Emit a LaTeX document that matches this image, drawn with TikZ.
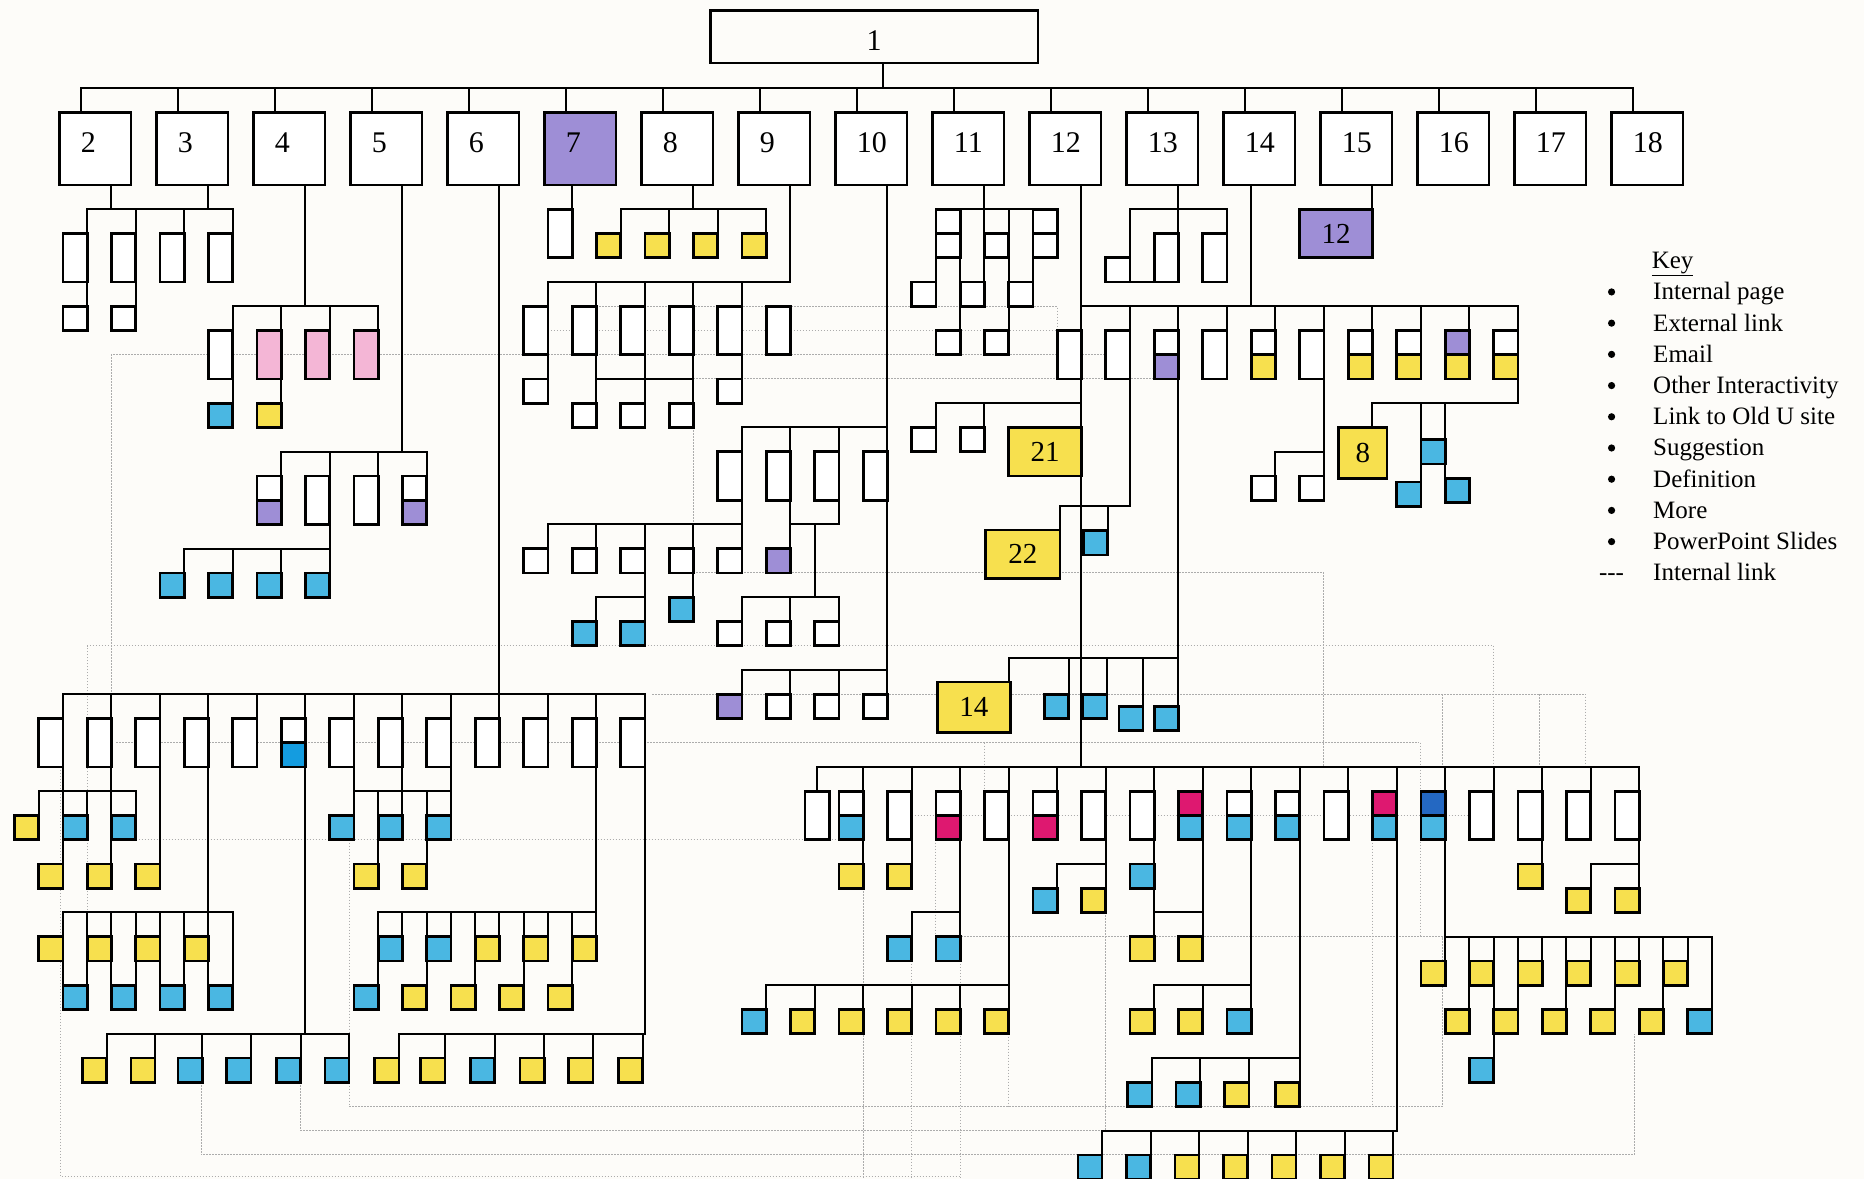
\documentclass[tikz,border=0pt]{standalone}
\usepackage{fontspec}
\setmainfont{Liberation Serif}
\usepackage{xcolor}
\usepackage{tikz}
\usetikzlibrary{calc, positioning}

\definecolor{pgyellow}{RGB}{247,224,78}
\definecolor{pgblue}{RGB}{74,183,226}
\definecolor{pgbblue}{RGB}{20,156,224}
\definecolor{pgdblue}{RGB}{36,104,194}
\definecolor{pgpurple}{RGB}{158,142,214}
\definecolor{pgpink}{RGB}{244,182,214}
\definecolor{pgmagenta}{RGB}{222,24,112}
\definecolor{paper}{RGB}{253,252,249}

\newcounter{pgn}
% one page box: right edge #2, top #3, height #4 (grid units)
\newcommand{\pg}[4][white]{\stepcounter{pgn}%
  \node[pg, fill=#1, minimum height=#4*24.25pt] (p\arabic{pgn}) at (#2,#3) {};}

\begin{document}
\begin{tikzpicture}[x=24.25pt, y=-24.25pt,
    ln/.style={line width=2pt, line cap=rect},
    lnk/.style={gray!65, line width=1pt, dash pattern=on 1.5pt off 1.5pt},
    pg/.style={draw, line width=2.6pt, inner sep=0pt, outer sep=0pt, minimum width=24.25pt, anchor=north east},
    topbox/.style={draw, line width=2.6pt, inner sep=0pt, outer sep=0pt},
    toplab/.style={inner sep=0pt, font=\fontsize{30}{30}\selectfont},
    bigbox/.style={draw, line width=2.6pt, inner sep=0pt, outer sep=0pt, font=\fontsize{29}{29}\selectfont},
    keytxt/.style={anchor=base west, inner sep=0pt, font=\fontsize{25}{30}\selectfont}]

    % 1. Nền
    \fill[paper] (-0.598,-7.629) rectangle (76.27,40.99);
    \useasboundingbox (-0.598,-7.629) rectangle (76.27,40.99);

    % 2. Internal links (dotted)
    \draw[lnk] (4,24) -- (4,7) -- (45,7);
    \draw[lnk] (22,6) -- (43,6);
    \draw[lnk] (24,5) -- (43,5) -- (43,6);
    \draw[lnk] (28,8) -- (47,8);
    \draw[lnk] (28,10) -- (28,14);
    \draw[lnk] (28,16) -- (54,16) -- (54,24);
    \draw[lnk] (3,33) -- (3,19) -- (61,19) -- (61,24);
    \draw[lnk] (4.2,23) -- (57.9,23) (40,23) -- (40,25);
    \draw[lnk] (26.3,21) -- (64.8,21) -- (64.8,24) (58.9,21) -- (58.9,24) (62.9,21) -- (62.9,24);
    \draw[lnk] (5,27) -- (34,27);
    \draw[lnk] (1.9,24) -- (1.9,40.9) -- (39,40.9);
    \draw[lnk] (7.7,37) -- (7.7,40) -- (66.8,40) -- (66.8,35);
    \draw[lnk] (11.8,37) -- (11.8,39) -- (44.85,39);
    \draw[lnk] (13.8,27) -- (13.8,38) -- (58.9,38) -- (58.9,31) -- (39,31);
    \draw[lnk] (35,29) -- (35,41) (37,32) -- (37,41) (39,32) -- (39,41)
        (41,35) -- (41,38) (45,30) -- (45,39) (38,27) -- (38,31);
    \draw[lnk] (37,26) -- (60,26) (56,27) -- (56,38) (58,23) -- (58,31);

    % 3. Trang chủ và cấp 1
    \node[topbox, minimum width=327.4pt, minimum height=52.6pt] (r1) at (35.45,-6.12) {};
    \node[toplab] (l1) at (35.45,-5.95) {1};
    \coordinate (hub) at (35.8,-4);
    \draw[ln] (hub |- r1.south) -- (hub);
    \draw[ln] (2.75,-4) -- (66.75,-4);
    \foreach \k in {2,...,18} {
        \ifnum\k=7 \def\boxfill{pgpurple}\else\def\boxfill{white}\fi
        \node[topbox, fill=\boxfill, minimum width=71.5pt, minimum height=72.75pt] (t\k) at ({3.325+4*(\k-2)},-1.5) {};
        \node[toplab, anchor=west] (l\k) at ({2.73+4*(\k-2)},-1.75) {\k};
        \draw[ln] ($(t\k.north)+(-0.575,0)$) -- ++(0,-1);
    }

    % 4. Under 2 and 3
    \draw[ln] (4,0) -- (4,1) (8,0) -- (8,1) (3,1) -- (9,1)
        (3,1) -- (3,5) (5,1) -- (5,5) (7,1) -- (7,2) (9,1) -- (9,2);
    \foreach \x in {3,5,7,9} {\pg{\x}{2}{2}}
    \pg{3}{5}{1} \pg{5}{5}{1}

    % 5. Under 4
    \draw[ln] (12,0) -- (12,5) (9,5) -- (15,5) (9,5) -- (9,9) (11,5) -- (11,9) (13,5) -- (13,6) (15,5) -- (15,6);
    \pg{9}{6}{2}
    \foreach \x in {11,13,15} {\pg[pgpink]{\x}{6}{2}}
    \pg[pgblue]{9}{9}{1} \pg[pgyellow]{11}{9}{1}

    % 6. Under 5
    \draw[ln] (16,0) -- (16,11) (11,11) -- (17,11) (11,11) -- (11,12) (13,11) -- (13,16)
        (15,11) -- (15,12) (17,11) -- (17,12)
        (7,15) -- (13,15) (7,15) -- (7,16) (9,15) -- (9,16) (11,15) -- (11,16);
    \pg{11}{12}{1} \pg[pgpurple]{11}{13}{1} \pg{13}{12}{2} \pg{15}{12}{2}
    \pg{17}{12}{1} \pg[pgpurple]{17}{13}{1}
    \foreach \x in {7,9,11,13} {\pg[pgblue]{\x}{16}{1}}

    % 7. Under 6
    \draw[ln] (20,0) -- (20,22) (2,21) -- (26,21);
    \foreach \x in {2,4,...,26} {\draw[ln] (\x,21) -- (\x,22);}
    \draw[ln] (2,22) -- (2,28) (4,22) -- (4,28) (6,22) -- (6,28) (8,22) -- (8,30) (12,22) -- (12,35)
        (14,22) -- (14,26) (16,22) -- (16,26) (18,22) -- (18,26) (24,22) -- (24,30) (26,22) -- (26,35);
    \foreach \x in {2,4,6,8,10,14,16,18,20,22,24,26} {\pg{\x}{22}{2}}
    \pg{12}{22}{1} \pg[pgbblue]{12}{23}{1}
    % left branch
    \draw[ln] (1,25) -- (5,25) (1,25) -- (1,26) (3,25) -- (3,26) (5,25) -- (5,26);
    \pg[pgyellow]{1}{26}{1} \pg[pgblue]{3}{26}{1} \pg[pgblue]{5}{26}{1}
    \foreach \x in {2,4,6} {\pg[pgyellow]{\x}{28}{1}}
    \draw[ln] (2,30) -- (9,30);
    \foreach \x in {2,...,9} {\draw[ln] (\x,30) -- (\x,33);}
    \foreach \x in {2,4,6,8} {\pg[pgyellow]{\x}{31}{1}}
    \foreach \x in {3,5,7,9} {\pg[pgblue]{\x}{33}{1}}
    \draw[ln] (3.8,35) -- (13.8,35);
    \foreach \x/\col in {3.8/pgyellow,5.8/pgyellow,7.75/pgblue,9.75/pgblue,11.8/pgblue,13.8/pgblue}
        {\draw[ln] (\x,35) -- (\x,36); \pg[\col]{\x}{36}{1}}
    % right branch
    \draw[ln] (14,25) -- (18,25) (15,25) -- (15,28) (17,25) -- (17,28);
    \foreach \x in {14,16,18} {\pg[pgblue]{\x}{26}{1}}
    \pg[pgyellow]{15}{28}{1} \pg[pgyellow]{17}{28}{1}
    \draw[ln] (15,30) -- (24,30);
    \foreach \x in {15,...,24} {\draw[ln] (\x,30) -- (\x,31);}
    \foreach \x in {15,17,...,23} {\draw[ln] (\x,31) -- (\x,33);}
    \foreach \x/\col in {16/pgblue,18/pgblue,20/pgyellow,22/pgyellow,24/pgyellow} {\pg[\col]{\x}{31}{1}}
    \foreach \x/\col in {15/pgblue,17/pgyellow,19/pgyellow,21/pgyellow,23/pgyellow} {\pg[\col]{\x}{33}{1}}
    \draw[ln] (15.85,35) -- (26,35);
    \foreach \x/\col in {15.85/pgyellow,17.75/pgyellow,19.8/pgblue,21.85/pgyellow,23.85/pgyellow,25.9/pgyellow}
        {\draw[ln] (\x,35) -- (\x,36); \pg[\col]{\x}{36}{1}}

    % 8. Under 7 and 8
    \draw[ln] (23,0) -- (23,1);
    \pg{23}{1}{2}
    \draw[ln] (28,0) -- (28,1) (25,1) -- (31,1);
    \foreach \x in {25,27,29,31} {\draw[ln] (\x,1) -- (\x,2); \pg[pgyellow]{\x}{2}{1}}

    % 9. Under 9
    \draw[ln] (32,0) -- (32,4) (22,4) -- (32,4) (22,4) -- (22,8) (24,4) -- (24,9) (26,4) -- (26,9)
        (28,4) -- (28,9) (30,4) -- (30,8) (24,8) -- (28,8);
    \foreach \x in {22,24,...,32} {\pg{\x}{5}{2}}
    \pg{22}{8}{1} \pg{30}{8}{1}
    \foreach \x in {24,26,28} {\pg{\x}{9}{1}}

    % 10. Under 10
    \draw[ln] (36,0) -- (36,21) (30,10) -- (36,10) (30,10) -- (30,15) (32,10) -- (32,15) (34,10) -- (34,11)
        (22,14) -- (30,14) (22,14) -- (22,15) (24,14) -- (24,15) (26,14) -- (26,18) (28,14) -- (28,17)
        (24,17) -- (26,17) (24,17) -- (24,18)
        (32,14) -- (34,14) (34,13) -- (34,14) (33,14) -- (33,17) (30,17) -- (34,17)
        (30,17) -- (30,18) (32,17) -- (32,18) (34,17) -- (34,18)
        (30,20) -- (36,20) (30,20) -- (30,21) (32,20) -- (32,21) (34,20) -- (34,21);
    \foreach \x in {30,32,34,36} {\pg{\x}{11}{2}}
    \foreach \x in {22,24,...,30} {\pg{\x}{15}{1}}
    \pg[pgpurple]{32}{15}{1}
    \pg[pgblue]{24}{18}{1} \pg[pgblue]{26}{18}{1} \pg[pgblue]{28}{17}{1}
    \foreach \x in {30,32,34} {\pg{\x}{18}{1}}
    \pg[pgpurple]{30}{21}{1}
    \foreach \x in {32,34,36} {\pg{\x}{21}{1}}

    % 11. Under 11
    \draw[ln] (40,0) -- (40,1) (38,1) -- (43,1) (38,1) -- (38,4) (39,1) -- (39,6) (40,1) -- (40,4)
        (41,1) -- (41,6) (42,1) -- (42,4) (43,1) -- (43,2);
    \foreach \x/\y in {39/1,39/2,43/1,43/2,41/2,38/4,40/4,42/4,39/6,41/6} {\pg{\x}{\y}{1}}

    % 12. Under 12
    \draw[ln] (44,0) -- (44,24) (38,9) -- (44,9) (38,9) -- (38,10) (40,9) -- (40,10);
    \pg{38}{10}{1} \pg{40}{10}{1}
    \node[bigbox, fill=pgyellow, minimum width=72.75pt, minimum height=48.5pt] (n21) at (42.5,11) {21};

    % 13. Under 13
    \draw[ln] (48,0) -- (48,2) (46,1) -- (50,1) (46,1) -- (46,3) (50,1) -- (50,2) (46,4) -- (48,4);
    \pg{46}{3}{1} \pg{48}{2}{2} \pg{50}{2}{2}

    % 14. Under 14
    \draw[ln] (51,0) -- (51,5) (44,5) -- (62,5);
    \foreach \x in {46,48,...,62} {\draw[ln] (\x,5) -- (\x,6);}
    \foreach \x in {44,46,50,54} {\pg{\x}{6}{2}}
    \foreach \x/\fa/\fb in {48/white/pgpurple,52/white/pgyellow,56/white/pgyellow,58/white/pgyellow,60/pgpurple/pgyellow,62/white/pgyellow}
        {\pg[\fa]{\x}{6}{1} \pg[\fb]{\x}{7}{1}}
    \draw[ln] (46,6) -- (46,13.24) (43.1,13.24) -- (46,13.24) (43.1,13.24) -- (43.1,14.23) (45.08,13.24) -- (45.08,14.25);
    \node[bigbox, fill=pgyellow, minimum width=74.4pt, minimum height=48.3pt] (n22) at (41.585,15.225) {22};
    \pg[pgblue]{45.08}{14.25}{1}
    \draw[ln] (48,6) -- (48,21.5) (41,19.5) -- (48,19.5) (41,19.5) -- (41,20.5)
        (43.47,19.5) -- (43.47,21) (45.06,19.5) -- (45.06,21) (46.54,19.5) -- (46.54,21.5);
    \node[bigbox, fill=pgyellow, minimum width=73pt, minimum height=50.2pt] (n14) at (39.565,21.535) {14};
    \pg[pgblue]{43.47}{21}{1} \pg[pgblue]{45.06}{21}{1} \pg[pgblue]{46.54}{21.5}{1} \pg[pgblue]{48}{21.5}{1}
    \draw[ln] (54,8) -- (54,12) (52,11) -- (54,11) (52,11) -- (52,12);
    \pg{52}{12}{1} \pg{54}{12}{1}
    \draw[ln] (62,8) -- (62,9) (56,9) -- (62,9) (56,9) -- (56,10) (58,9) -- (58,12.25) (59,9) -- (59,12.1);
    \node[bigbox, fill=pgyellow, minimum width=48.5pt, minimum height=50.9pt] (n8) at (55.6,11.05) {8};
    \pg[pgblue]{59}{10.5}{1} \pg[pgblue]{58}{12.25}{1} \pg[pgblue]{60}{12.1}{1}

    % 15. Under 15
    \draw[ln] (56,0) -- (56,1);
    \node[bigbox, fill=pgpurple, minimum width=72.75pt, minimum height=48.5pt] (n12) at (54.5,2) {12};

    % 16. Bottom tree
    \draw[ln] (33.1,24) -- (67,24) (33.1,24) -- (33.1,25);
    \foreach \x in {35,37,...,67} {\draw[ln] (\x,24) -- (\x,25);}
    \pg{33.6}{25}{2}
    \foreach \x in {37,41,45,47,55,61,63,65,67} {\pg{\x}{25}{2}}
    \foreach \x/\fa/\fb in {35/white/pgblue,39/white/pgmagenta,43/white/pgmagenta,49/pgmagenta/pgblue,51/white/pgblue,53/white/pgblue,57/pgmagenta/pgblue,59/pgdblue/pgblue}
        {\pg[\fa]{\x}{25}{1} \pg[\fb]{\x}{26}{1}}
    \draw[ln] (35,27) -- (35,28) (37,27) -- (37,28) (39,27) -- (39,31) (37,30) -- (39,30) (37,30) -- (37,31);
    \pg[pgyellow]{35}{28}{1} \pg[pgyellow]{37}{28}{1} \pg[pgblue]{37}{31}{1} \pg[pgblue]{39}{31}{1}
    \draw[ln] (41,27) -- (41,34) (31,33) -- (41,33);
    \foreach \x in {31,33,...,39} {\draw[ln] (\x,33) -- (\x,34);}
    \pg[pgblue]{31}{34}{1}
    \foreach \x in {33,35,...,41} {\pg[pgyellow]{\x}{34}{1}}
    \draw[ln] (43,28) -- (45,28) (43,28) -- (43,29) (45,27) -- (45,29);
    \pg[pgblue]{43}{29}{1} \pg[pgyellow]{45}{29}{1}
    \draw[ln] (47,27) -- (47,31) (47,30) -- (49,30) (49,27) -- (49,31);
    \pg[pgblue]{47}{28}{1} \pg[pgyellow]{47}{31}{1} \pg[pgyellow]{49}{31}{1}
    \draw[ln] (51,27) -- (51,34) (47,33) -- (51,33) (47,33) -- (47,34) (49,33) -- (49,34);
    \pg[pgyellow]{47}{34}{1} \pg[pgyellow]{49}{34}{1} \pg[pgblue]{51}{34}{1}
    \draw[ln] (53,27) -- (53,37) (46.9,36) -- (53,36) (46.9,36) -- (46.9,37) (48.9,36) -- (48.9,37) (50.9,36) -- (50.9,37);
    \pg[pgblue]{46.9}{37}{1} \pg[pgblue]{48.9}{37}{1} \pg[pgyellow]{50.9}{37}{1} \pg[pgyellow]{53}{37}{1}
    \draw[ln] (57,27) -- (57,39) (44.85,39) -- (57,39);
    \foreach \x/\col in {44.85/pgblue,46.85/pgblue,48.85/pgyellow,50.85/pgyellow,52.85/pgyellow,54.85/pgyellow,56.85/pgyellow}
        {\draw[ln] (\x,39) -- (\x,40); \pg[\col]{\x}{40}{1}}
    \draw[ln] (63,27) -- (63,28) (67,27) -- (67,29) (65,28) -- (67,28) (65,28) -- (65,29);
    \pg[pgyellow]{63}{28}{1} \pg[pgyellow]{65}{29}{1} \pg[pgyellow]{67}{29}{1}
    \draw[ln] (59,27) -- (59,32) (59,31) -- (70,31) (61,31) -- (61,36);
    \foreach \x in {61,63,...,69} {\draw[ln] (\x,31) -- (\x,32);}
    \foreach \x in {60,62,...,70} {\draw[ln] (\x,31) -- (\x,34);}
    \foreach \x in {59,61,...,69} {\pg[pgyellow]{\x}{32}{1}}
    \foreach \x in {60,62,...,68} {\pg[pgyellow]{\x}{34}{1}}
    \pg[pgblue]{70}{34}{1} \pg[pgblue]{61}{36}{1}

    % 17. Key
    \node[keytxt] (key) at (67.51,3.43) {\underline{Key}};
    \foreach \lab [count=\idx from 0] in {Internal page,External link,Email,Other Interactivity,Link to Old U site,Suggestion,Definition,More,PowerPoint Slides}
    {
        \node[keytxt] (k\idx) at (67.57,{4.74+1.287*\idx}) {\lab};
        \fill (65.86,{4.74+1.287*\idx-0.33}) circle (3.6pt);
    }
    \node[keytxt] (k9) at (67.57,16.32) {Internal link};
    \node[anchor=base, inner sep=0pt, font=\fontsize{25}{30}\selectfont] (d9) at (65.86,16.32) {-{}-{}-};
\end{tikzpicture}
\end{document}
